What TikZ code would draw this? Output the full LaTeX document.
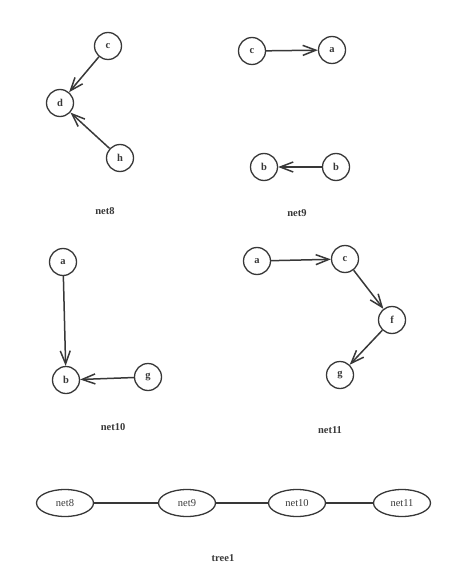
\documentclass[tikz,border=0pt]{standalone}
\usepackage{fontspec}
\setmainfont{Liberation Serif}
\usetikzlibrary{arrows.meta}
\usetikzlibrary{shapes.geometric}
\colorlet{ink}{black!78}
\tikzset{grp/.style={
  x=1pt,
  y=-1pt
}}
\tikzset{vtx/.style={
  draw=ink,
  line width=1.3pt,
  shape=circle,
  minimum size=27pt,
  inner sep=0pt,
  font=\fontsize{10.5}{10.5}\selectfont\bfseries,
  text=ink
}}
\tikzset{arc/.style={
  draw=ink,
  line width=1.5pt,
  -{Straight Barb[length=13pt,width=10pt,line width=1.5pt]}
}}
\tikzset{nt/.style={
  draw=ink,
  line width=1.3pt,
  shape=ellipse,
  minimum width=57pt,
  minimum height=27pt,
  inner sep=0pt,
  font=\fontsize{10.5}{10.5}\selectfont,
  text=ink
}}
\tikzset{netlbl/.style={font=\fontsize{10.5}{10.5}\selectfont\bfseries, text=ink}}

\begin{document}
\begin{tikzpicture}[grp]
    \useasboundingbox (0,0) rectangle (464,588);

    % net8
    \node[vtx] (c8) at (108,46) {c};
    \node[vtx] (d8) at (60,103) {d};
    \node[vtx] (h8) at (120,158) {h};
    \draw[arc] (c8) -- (d8);
    \draw[arc] (h8) -- (d8);
    \node[netlbl] (l8) at (105,211) {net8};

    % net9
    \node[vtx] (c9) at (252,51) {c};
    \node[vtx] (a9) at (332,50) {a};
    \node[vtx] (bl9) at (264,167) {b};
    \node[vtx] (br9) at (336,167) {b};
    \draw[arc] (c9) -- (a9);
    \draw[arc] (br9) -- (bl9);
    \node[netlbl] (l9) at (297,213) {net9};

    % net10
    \node[vtx] (a10) at (63,262) {a};
    \node[vtx] (b10) at (66,380) {b};
    \node[vtx] (g10) at (148,377) {g};
    \draw[arc] (a10) -- (b10);
    \draw[arc] (g10) -- (b10);
    \node[netlbl] (l10) at (113,427) {net10};

    % net11
    \node[vtx] (a11) at (257,261) {a};
    \node[vtx] (c11) at (345,259) {c};
    \node[vtx] (f11) at (392,320) {f};
    \node[vtx] (g11) at (340,375) {g};
    \draw[arc] (a11) -- (c11);
    \draw[arc] (c11) -- (f11);
    \draw[arc] (f11) -- (g11);
    \node[netlbl] (l11) at (330,430) {net11};

    % tree1
    \node[nt] (t8) at (65,503) {net8};
    \node[nt] (t9) at (187,503) {net9};
    \node[nt] (t10) at (297,503) {net10};
    \node[nt] (t11) at (402,503) {net11};
    \draw[ink,line width=1.3pt] (t8) -- (t9) -- (t10) -- (t11);
    \node[netlbl] (lt) at (223,558) {tree1};

  \end{tikzpicture}
\end{document}
